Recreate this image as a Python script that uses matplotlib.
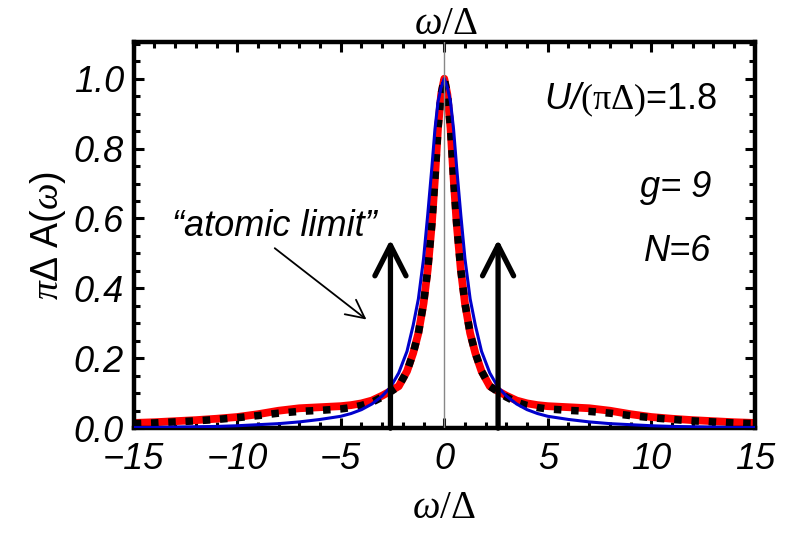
import matplotlib
matplotlib.use("Agg")
import matplotlib.pyplot as plt
from matplotlib.ticker import MultipleLocator, FormatStrFormatter

# mathtext slots: rm/it = serif, sf = sans, bf (abused) = sans italic
plt.rcParams["mathtext.fontset"] = "custom"
plt.rcParams["mathtext.rm"] = "Liberation Serif"
plt.rcParams["mathtext.it"] = "Liberation Serif:italic"
plt.rcParams["mathtext.sf"] = "Liberation Sans"
plt.rcParams["mathtext.bf"] = "Liberation Sans:italic"
plt.rcParams["font.family"] = ["Liberation Sans", "DejaVu Sans"]

OMEGA = [-15, -14, -13, -12, -11, -10, -9, -8, -7, -6, -5, -4.5, -4, -3.5, -3,
         -2.6, -2.2, -1.8, -1.5, -1.25, -1.0, -0.8, -0.6, -0.45, -0.3, -0.15, 0,
         0.15, 0.3, 0.45, 0.6, 0.8, 1.0, 1.25, 1.5, 1.8, 2.2, 2.6,
         3, 3.5, 4, 4.5, 5, 6, 7, 8, 9, 10, 11, 12, 13, 14, 15]

BLUE = [0.002, 0.002, 0.003, 0.004, 0.005, 0.007, 0.010, 0.013, 0.018, 0.025, 0.034,
        0.042, 0.053, 0.069, 0.092, 0.117, 0.158, 0.220, 0.295, 0.370, 0.485, 0.610,
        0.745, 0.855, 0.935, 0.975, 1.0,
        0.975, 0.935, 0.855, 0.745, 0.610, 0.485, 0.370, 0.295, 0.220, 0.158, 0.117,
        0.092, 0.069, 0.053, 0.042, 0.034, 0.025, 0.018, 0.013, 0.010, 0.007, 0.005,
        0.004, 0.003, 0.002, 0.002]

RED = [0.015, 0.017, 0.020, 0.023, 0.027, 0.032, 0.040, 0.050, 0.057, 0.060, 0.063,
       0.066, 0.071, 0.079, 0.093, 0.106, 0.120, 0.163, 0.215, 0.272, 0.357, 0.453,
       0.585, 0.715, 0.860, 0.955, 1.0,
       0.955, 0.860, 0.715, 0.585, 0.453, 0.357, 0.272, 0.215, 0.163, 0.120, 0.106,
       0.093, 0.079, 0.071, 0.066, 0.063, 0.060, 0.057, 0.050, 0.040, 0.032, 0.027,
       0.023, 0.020, 0.017, 0.015]

BLACK = [0.013, 0.015, 0.018, 0.021, 0.025, 0.030, 0.036, 0.043, 0.048, 0.051, 0.055,
         0.059, 0.065, 0.074, 0.089, 0.104, 0.120, 0.163, 0.215, 0.272, 0.357, 0.453,
         0.585, 0.715, 0.860, 0.955, 1.0,
         0.955, 0.860, 0.715, 0.585, 0.453, 0.357, 0.272, 0.215, 0.163, 0.120, 0.104,
         0.089, 0.074, 0.065, 0.059, 0.055, 0.051, 0.048, 0.043, 0.036, 0.030, 0.025,
         0.021, 0.018, 0.015, 0.013]

ATOMIC_POS = [-2.6, 2.6]
ATOMIC_HEIGHT = 0.54

fig = plt.figure(figsize=(7.87, 5.42), dpi=100)
ax = fig.add_axes([0.170, 0.210, 0.789, 0.7125])

ax.plot(OMEGA, RED, color="#ff0000", lw=5.6, solid_capstyle="butt", zorder=2)
ax.plot(OMEGA, BLACK, color="black", lw=5.4, dashes=(1.0, 1.3),
        dash_capstyle="butt", zorder=3)
ax.plot(OMEGA, BLUE, color="#0000cc", lw=2.2, zorder=4)
ax.axvline(0, color="#888888", lw=1.0, zorder=5)

for xp in ATOMIC_POS:
    ax.annotate("", xy=(xp, ATOMIC_HEIGHT), xytext=(xp, 0.0),
                arrowprops=dict(arrowstyle="->,head_length=0.55,head_width=0.28",
                                lw=3.8, color="black", shrinkA=0, shrinkB=0,
                                mutation_scale=40),
                zorder=6)

ax.text(-8.2, 0.55, "“atomic limit”", ha="center", va="baseline",
        fontsize=26, style="italic")
ax.annotate("", xy=(-3.76, 0.311), xytext=(-8.19, 0.515),
            arrowprops=dict(arrowstyle="->,head_length=0.6,head_width=0.3",
                            lw=1.3, color="black", shrinkA=0, shrinkB=0,
                            mutation_scale=22))

ax.text(13.2, 0.94, r"$\mathbf{U/}\mathrm{(\pi\Delta)}$=1.8", ha="right",
        va="center", fontsize=26)
ax.text(12.9, 0.688, "g= 9", ha="right", va="center", fontsize=26, style="italic")
ax.text(12.9, 0.505, "N=6", ha="right", va="center", fontsize=26, style="italic")

ax.set_xlim(-15, 15)
ax.set_ylim(0, 1.105)
ax.xaxis.set_major_locator(MultipleLocator(5))
ax.xaxis.set_minor_locator(MultipleLocator(1))
ax.yaxis.set_major_locator(MultipleLocator(0.2))
ax.yaxis.set_minor_locator(MultipleLocator(0.05))
ax.yaxis.set_major_formatter(FormatStrFormatter("%.1f"))
ax.tick_params(which="both", direction="in", top=True, right=True,
               labelsize=26, width=2.2)
ax.tick_params(which="major", length=7)
ax.tick_params(axis="x", which="major", pad=10)
ax.tick_params(axis="y", which="major", pad=7)
ax.tick_params(which="minor", length=4)
for lab in ax.get_xticklabels() + ax.get_yticklabels():
    lab.set_fontstyle("italic")
for sp in ax.spines.values():
    sp.set_linewidth(3.2)

ax.set_xlabel(r"$\omega/\Delta$", fontsize=28, labelpad=9)
ax.set_ylabel(r"$\pi\mathsf{\Delta\ A(}\omega\mathsf{)}$", fontsize=27, labelpad=4)
fig.text(0.566, 0.955, r"$\omega/\Delta$", ha="center", va="center", fontsize=28)

fig.savefig("out.png", dpi=100)
